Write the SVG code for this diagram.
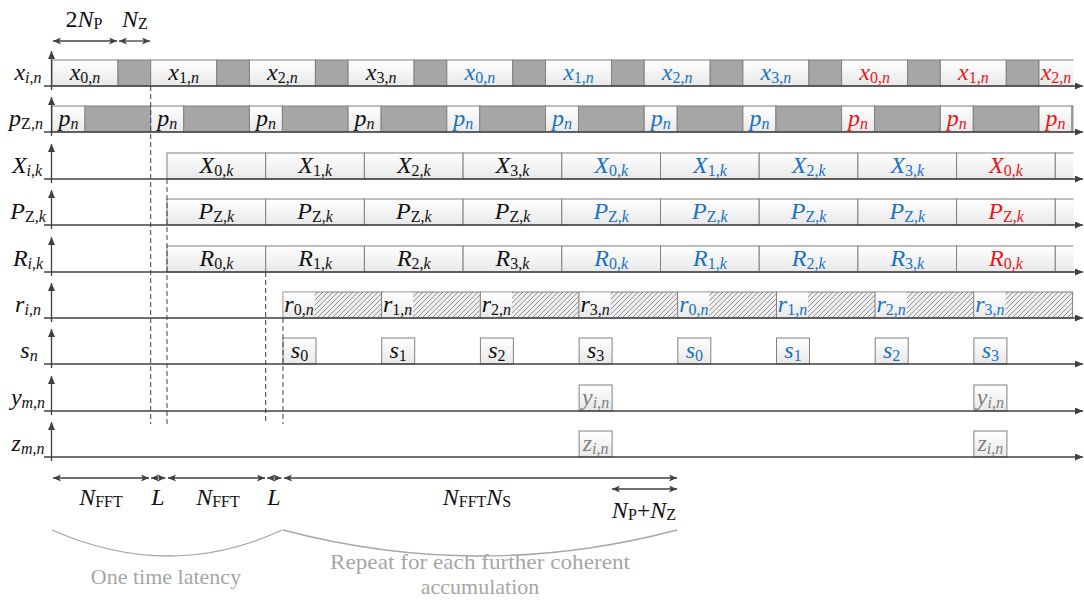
<svg xmlns="http://www.w3.org/2000/svg" width="1084" height="606" viewBox="0 0 1084 606">
<style>
text{font-family:"Liberation Serif","Times New Roman",serif}
.t{font-size:24px;font-style:italic}
.s{font-size:16px;font-style:normal}
.i{font-style:italic}
.k{fill:#111}
.b{fill:#1a72c0}
.r{fill:#e8161b}
.g{fill:#808080}
.gt{fill:#a6a6a6;font-size:22px;font-style:normal}
.w{fill:url(#wg);stroke:#808080;stroke-width:1}
.d{fill:#a6a6a6;stroke:#808080;stroke-width:1}
.h{fill:url(#hatch);stroke:#808080;stroke-width:1}
.ax{stroke:#404040;stroke-width:1.3;fill:none}
.dash{stroke:#404040;stroke-width:1;stroke-dasharray:5 3;fill:none}
.dim{stroke:#404040;stroke-width:1.3;fill:none;marker-start:url(#da);marker-end:url(#da)}
.brace{stroke:#a6a6a6;stroke-width:1.3;fill:none}
</style>
<defs>
<linearGradient id="wg" x1="0" y1="0" x2="0" y2="1">
<stop offset="0" stop-color="#ffffff"/>
<stop offset="1" stop-color="#e8e8e8"/>
</linearGradient>
<pattern id="hatch" patternUnits="userSpaceOnUse" width="5" height="5">
<rect width="5" height="5" fill="#eeeeee"/>
<path d="M0,5 L5,0 M-1,1 L1,-1 M4,6 L6,4" stroke="#7a7a7a" stroke-width="0.8"/>
</pattern>
<marker id="ah" markerUnits="userSpaceOnUse" markerWidth="9" markerHeight="8" refX="8" refY="3.5" orient="auto">
<path d="M0,0 L8,3.5 L0,7 z" fill="#404040"/>
</marker>
<marker id="da" markerUnits="userSpaceOnUse" markerWidth="9" markerHeight="8" refX="8" refY="3.5" orient="auto-start-reverse">
<path d="M0,0 L8,3.5 L0,7 L2,3.5 z" fill="#404040"/>
</marker>
<clipPath id="cl"><rect x="0" y="0" width="1073.5" height="606"/></clipPath>
</defs>

<!-- row x_{i,n} -->
<g id="row-x" clip-path="url(#cl)">
<rect class="w" x="52" y="60" width="66" height="26"/><rect class="d" x="118" y="60" width="32.7" height="26"/>
<rect class="w" x="150.7" y="60" width="66" height="26"/><rect class="d" x="216.7" y="60" width="32.7" height="26"/>
<rect class="w" x="249.4" y="60" width="66" height="26"/><rect class="d" x="315.4" y="60" width="32.7" height="26"/>
<rect class="w" x="348.1" y="60" width="66" height="26"/><rect class="d" x="414.1" y="60" width="32.7" height="26"/>
<rect class="w" x="446.8" y="60" width="66" height="26"/><rect class="d" x="512.8" y="60" width="32.7" height="26"/>
<rect class="w" x="545.5" y="60" width="66" height="26"/><rect class="d" x="611.5" y="60" width="32.7" height="26"/>
<rect class="w" x="644.2" y="60" width="66" height="26"/><rect class="d" x="710.2" y="60" width="32.7" height="26"/>
<rect class="w" x="742.9" y="60" width="66" height="26"/><rect class="d" x="808.9" y="60" width="32.7" height="26"/>
<rect class="w" x="841.6" y="60" width="66" height="26"/><rect class="d" x="907.6" y="60" width="32.7" height="26"/>
<rect class="w" x="940.3" y="60" width="66" height="26"/><rect class="d" x="1006.3" y="60" width="32.7" height="26"/>
<rect class="w" x="1039" y="60" width="66" height="26"/>
<text class="t k" x="85" y="80" text-anchor="middle">x<tspan class="s" dy="3">0,</tspan><tspan class="s i">n</tspan></text>
<text class="t k" x="183.7" y="80" text-anchor="middle">x<tspan class="s" dy="3">1,</tspan><tspan class="s i">n</tspan></text>
<text class="t k" x="282.4" y="80" text-anchor="middle">x<tspan class="s" dy="3">2,</tspan><tspan class="s i">n</tspan></text>
<text class="t k" x="381.1" y="80" text-anchor="middle">x<tspan class="s" dy="3">3,</tspan><tspan class="s i">n</tspan></text>
<text class="t b" x="479.8" y="80" text-anchor="middle">x<tspan class="s" dy="3">0,</tspan><tspan class="s i">n</tspan></text>
<text class="t b" x="578.5" y="80" text-anchor="middle">x<tspan class="s" dy="3">1,</tspan><tspan class="s i">n</tspan></text>
<text class="t b" x="677.2" y="80" text-anchor="middle">x<tspan class="s" dy="3">2,</tspan><tspan class="s i">n</tspan></text>
<text class="t b" x="775.9" y="80" text-anchor="middle">x<tspan class="s" dy="3">3,</tspan><tspan class="s i">n</tspan></text>
<text class="t r" x="874.6" y="80" text-anchor="middle">x<tspan class="s" dy="3">0,</tspan><tspan class="s i">n</tspan></text>
<text class="t r" x="973.3" y="80" text-anchor="middle">x<tspan class="s" dy="3">1,</tspan><tspan class="s i">n</tspan></text>
<text class="t r" x="1056" y="80" text-anchor="middle">x<tspan class="s" dy="3">2,</tspan><tspan class="s i">n</tspan></text>
</g>

<!-- row p_{Z,n} -->
<g id="row-p" clip-path="url(#cl)">
<rect class="w" x="52" y="106" width="33" height="26"/><rect class="d" x="85" y="106" width="65.7" height="26"/>
<rect class="w" x="150.7" y="106" width="33" height="26"/><rect class="d" x="183.7" y="106" width="65.7" height="26"/>
<rect class="w" x="249.4" y="106" width="33" height="26"/><rect class="d" x="282.4" y="106" width="65.7" height="26"/>
<rect class="w" x="348.1" y="106" width="33" height="26"/><rect class="d" x="381.1" y="106" width="65.7" height="26"/>
<rect class="w" x="446.8" y="106" width="33" height="26"/><rect class="d" x="479.8" y="106" width="65.7" height="26"/>
<rect class="w" x="545.5" y="106" width="33" height="26"/><rect class="d" x="578.5" y="106" width="65.7" height="26"/>
<rect class="w" x="644.2" y="106" width="33" height="26"/><rect class="d" x="677.2" y="106" width="65.7" height="26"/>
<rect class="w" x="742.9" y="106" width="33" height="26"/><rect class="d" x="775.9" y="106" width="65.7" height="26"/>
<rect class="w" x="841.6" y="106" width="33" height="26"/><rect class="d" x="874.6" y="106" width="65.7" height="26"/>
<rect class="w" x="940.3" y="106" width="33" height="26"/><rect class="d" x="973.3" y="106" width="65.7" height="26"/>
<rect class="w" x="1039" y="106" width="33" height="26"/><rect class="d" x="1072" y="106" width="65.7" height="26"/>
<text class="t k" x="68.5" y="126" text-anchor="middle">p<tspan class="s i" dy="3">n</tspan></text>
<text class="t k" x="167.2" y="126" text-anchor="middle">p<tspan class="s i" dy="3">n</tspan></text>
<text class="t k" x="265.9" y="126" text-anchor="middle">p<tspan class="s i" dy="3">n</tspan></text>
<text class="t k" x="364.6" y="126" text-anchor="middle">p<tspan class="s i" dy="3">n</tspan></text>
<text class="t b" x="463.3" y="126" text-anchor="middle">p<tspan class="s i" dy="3">n</tspan></text>
<text class="t b" x="562" y="126" text-anchor="middle">p<tspan class="s i" dy="3">n</tspan></text>
<text class="t b" x="660.7" y="126" text-anchor="middle">p<tspan class="s i" dy="3">n</tspan></text>
<text class="t b" x="759.4" y="126" text-anchor="middle">p<tspan class="s i" dy="3">n</tspan></text>
<text class="t r" x="858.1" y="126" text-anchor="middle">p<tspan class="s i" dy="3">n</tspan></text>
<text class="t r" x="956.8" y="126" text-anchor="middle">p<tspan class="s i" dy="3">n</tspan></text>
<text class="t r" x="1055.5" y="126" text-anchor="middle">p<tspan class="s i" dy="3">n</tspan></text>
</g>

<!-- row X_{i,k} -->
<g id="row-X" clip-path="url(#cl)">
<rect class="w" x="167" y="153" width="98.7" height="26"/>
<rect class="w" x="265.7" y="153" width="98.7" height="26"/>
<rect class="w" x="364.4" y="153" width="98.7" height="26"/>
<rect class="w" x="463.1" y="153" width="98.7" height="26"/>
<rect class="w" x="561.8" y="153" width="98.7" height="26"/>
<rect class="w" x="660.5" y="153" width="98.7" height="26"/>
<rect class="w" x="759.2" y="153" width="98.7" height="26"/>
<rect class="w" x="857.9" y="153" width="98.7" height="26"/>
<rect class="w" x="956.6" y="153" width="98.7" height="26"/>
<rect class="w" x="1055.3" y="153" width="98.7" height="26"/>
<text class="t k" x="216.4" y="173" text-anchor="middle">X<tspan class="s" dy="3">0,</tspan><tspan class="s i">k</tspan></text>
<text class="t k" x="315.1" y="173" text-anchor="middle">X<tspan class="s" dy="3">1,</tspan><tspan class="s i">k</tspan></text>
<text class="t k" x="413.8" y="173" text-anchor="middle">X<tspan class="s" dy="3">2,</tspan><tspan class="s i">k</tspan></text>
<text class="t k" x="512.5" y="173" text-anchor="middle">X<tspan class="s" dy="3">3,</tspan><tspan class="s i">k</tspan></text>
<text class="t b" x="611.2" y="173" text-anchor="middle">X<tspan class="s" dy="3">0,</tspan><tspan class="s i">k</tspan></text>
<text class="t b" x="709.9" y="173" text-anchor="middle">X<tspan class="s" dy="3">1,</tspan><tspan class="s i">k</tspan></text>
<text class="t b" x="808.6" y="173" text-anchor="middle">X<tspan class="s" dy="3">2,</tspan><tspan class="s i">k</tspan></text>
<text class="t b" x="907.3" y="173" text-anchor="middle">X<tspan class="s" dy="3">3,</tspan><tspan class="s i">k</tspan></text>
<text class="t r" x="1006" y="173" text-anchor="middle">X<tspan class="s" dy="3">0,</tspan><tspan class="s i">k</tspan></text>
</g>

<!-- row P_{Z,k} -->
<g id="row-P" clip-path="url(#cl)">
<rect class="w" x="167" y="199" width="98.7" height="26"/>
<rect class="w" x="265.7" y="199" width="98.7" height="26"/>
<rect class="w" x="364.4" y="199" width="98.7" height="26"/>
<rect class="w" x="463.1" y="199" width="98.7" height="26"/>
<rect class="w" x="561.8" y="199" width="98.7" height="26"/>
<rect class="w" x="660.5" y="199" width="98.7" height="26"/>
<rect class="w" x="759.2" y="199" width="98.7" height="26"/>
<rect class="w" x="857.9" y="199" width="98.7" height="26"/>
<rect class="w" x="956.6" y="199" width="98.7" height="26"/>
<rect class="w" x="1055.3" y="199" width="98.7" height="26"/>
<text class="t k" x="216.4" y="219" text-anchor="middle">P<tspan class="s" dy="3">Z,</tspan><tspan class="s i">k</tspan></text>
<text class="t k" x="315.1" y="219" text-anchor="middle">P<tspan class="s" dy="3">Z,</tspan><tspan class="s i">k</tspan></text>
<text class="t k" x="413.8" y="219" text-anchor="middle">P<tspan class="s" dy="3">Z,</tspan><tspan class="s i">k</tspan></text>
<text class="t k" x="512.5" y="219" text-anchor="middle">P<tspan class="s" dy="3">Z,</tspan><tspan class="s i">k</tspan></text>
<text class="t b" x="611.2" y="219" text-anchor="middle">P<tspan class="s" dy="3">Z,</tspan><tspan class="s i">k</tspan></text>
<text class="t b" x="709.9" y="219" text-anchor="middle">P<tspan class="s" dy="3">Z,</tspan><tspan class="s i">k</tspan></text>
<text class="t b" x="808.6" y="219" text-anchor="middle">P<tspan class="s" dy="3">Z,</tspan><tspan class="s i">k</tspan></text>
<text class="t b" x="907.3" y="219" text-anchor="middle">P<tspan class="s" dy="3">Z,</tspan><tspan class="s i">k</tspan></text>
<text class="t r" x="1006" y="219" text-anchor="middle">P<tspan class="s" dy="3">Z,</tspan><tspan class="s i">k</tspan></text>
</g>

<!-- row R_{i,k} -->
<g id="row-R" clip-path="url(#cl)">
<rect class="w" x="167" y="246" width="98.7" height="26"/>
<rect class="w" x="265.7" y="246" width="98.7" height="26"/>
<rect class="w" x="364.4" y="246" width="98.7" height="26"/>
<rect class="w" x="463.1" y="246" width="98.7" height="26"/>
<rect class="w" x="561.8" y="246" width="98.7" height="26"/>
<rect class="w" x="660.5" y="246" width="98.7" height="26"/>
<rect class="w" x="759.2" y="246" width="98.7" height="26"/>
<rect class="w" x="857.9" y="246" width="98.7" height="26"/>
<rect class="w" x="956.6" y="246" width="98.7" height="26"/>
<rect class="w" x="1055.3" y="246" width="98.7" height="26"/>
<text class="t k" x="216.4" y="266" text-anchor="middle">R<tspan class="s" dy="3">0,</tspan><tspan class="s i">k</tspan></text>
<text class="t k" x="315.1" y="266" text-anchor="middle">R<tspan class="s" dy="3">1,</tspan><tspan class="s i">k</tspan></text>
<text class="t k" x="413.8" y="266" text-anchor="middle">R<tspan class="s" dy="3">2,</tspan><tspan class="s i">k</tspan></text>
<text class="t k" x="512.5" y="266" text-anchor="middle">R<tspan class="s" dy="3">3,</tspan><tspan class="s i">k</tspan></text>
<text class="t b" x="611.2" y="266" text-anchor="middle">R<tspan class="s" dy="3">0,</tspan><tspan class="s i">k</tspan></text>
<text class="t b" x="709.9" y="266" text-anchor="middle">R<tspan class="s" dy="3">1,</tspan><tspan class="s i">k</tspan></text>
<text class="t b" x="808.6" y="266" text-anchor="middle">R<tspan class="s" dy="3">2,</tspan><tspan class="s i">k</tspan></text>
<text class="t b" x="907.3" y="266" text-anchor="middle">R<tspan class="s" dy="3">3,</tspan><tspan class="s i">k</tspan></text>
<text class="t r" x="1006" y="266" text-anchor="middle">R<tspan class="s" dy="3">0,</tspan><tspan class="s i">k</tspan></text>
</g>

<!-- row r_{i,n} -->
<g id="row-r">
<rect class="h" x="283" y="292" width="98.7" height="26"/>
<rect class="h" x="381.7" y="292" width="98.7" height="26"/>
<rect class="h" x="480.4" y="292" width="98.7" height="26"/>
<rect class="h" x="579.1" y="292" width="98.7" height="26"/>
<rect class="h" x="677.8" y="292" width="98.7" height="26"/>
<rect class="h" x="776.5" y="292" width="98.7" height="26"/>
<rect class="h" x="875.2" y="292" width="98.7" height="26"/>
<rect class="h" x="973.9" y="292" width="98.7" height="26"/>
<g fill="url(#wg)">
<rect x="283.5" y="292.5" width="31" height="25"/>
<rect x="382.2" y="292.5" width="31" height="25"/>
<rect x="480.9" y="292.5" width="31" height="25"/>
<rect x="579.6" y="292.5" width="31" height="25"/>
<rect x="678.3" y="292.5" width="31" height="25"/>
<rect x="777" y="292.5" width="31" height="25"/>
<rect x="875.7" y="292.5" width="31" height="25"/>
<rect x="974.4" y="292.5" width="31" height="25"/>
</g>
<text class="t k" x="299" y="312" text-anchor="middle">r<tspan class="s" dy="3">0,</tspan><tspan class="s i">n</tspan></text>
<text class="t k" x="397.7" y="312" text-anchor="middle">r<tspan class="s" dy="3">1,</tspan><tspan class="s i">n</tspan></text>
<text class="t k" x="496.4" y="312" text-anchor="middle">r<tspan class="s" dy="3">2,</tspan><tspan class="s i">n</tspan></text>
<text class="t k" x="595.1" y="312" text-anchor="middle">r<tspan class="s" dy="3">3,</tspan><tspan class="s i">n</tspan></text>
<text class="t b" x="693.8" y="312" text-anchor="middle">r<tspan class="s" dy="3">0,</tspan><tspan class="s i">n</tspan></text>
<text class="t b" x="792.5" y="312" text-anchor="middle">r<tspan class="s" dy="3">1,</tspan><tspan class="s i">n</tspan></text>
<text class="t b" x="891.2" y="312" text-anchor="middle">r<tspan class="s" dy="3">2,</tspan><tspan class="s i">n</tspan></text>
<text class="t b" x="989.9" y="312" text-anchor="middle">r<tspan class="s" dy="3">3,</tspan><tspan class="s i">n</tspan></text>
</g>

<!-- row s_n -->
<g id="row-s">
<rect class="w" x="283" y="338" width="33" height="26"/>
<rect class="w" x="381.7" y="338" width="33" height="26"/>
<rect class="w" x="480.4" y="338" width="33" height="26"/>
<rect class="w" x="579.1" y="338" width="33" height="26"/>
<rect class="w" x="677.8" y="338" width="33" height="26"/>
<rect class="w" x="776.5" y="338" width="33" height="26"/>
<rect class="w" x="875.2" y="338" width="33" height="26"/>
<rect class="w" x="973.9" y="338" width="33" height="26"/>
<text class="t k" x="299.5" y="358" text-anchor="middle">s<tspan class="s" dy="3">0</tspan></text>
<text class="t k" x="398.2" y="358" text-anchor="middle">s<tspan class="s" dy="3">1</tspan></text>
<text class="t k" x="496.9" y="358" text-anchor="middle">s<tspan class="s" dy="3">2</tspan></text>
<text class="t k" x="595.6" y="358" text-anchor="middle">s<tspan class="s" dy="3">3</tspan></text>
<text class="t b" x="694.3" y="358" text-anchor="middle">s<tspan class="s" dy="3">0</tspan></text>
<text class="t b" x="793" y="358" text-anchor="middle">s<tspan class="s" dy="3">1</tspan></text>
<text class="t b" x="891.7" y="358" text-anchor="middle">s<tspan class="s" dy="3">2</tspan></text>
<text class="t b" x="990.4" y="358" text-anchor="middle">s<tspan class="s" dy="3">3</tspan></text>
</g>

<!-- row y_{m,n} -->
<g id="row-y">
<rect class="w" x="579.1" y="385" width="33" height="26"/>
<rect class="w" x="973.9" y="385" width="33" height="26"/>
<text class="t g" x="595.6" y="405" text-anchor="middle">y<tspan class="s i" dy="3">i</tspan><tspan class="s">,</tspan><tspan class="s i">n</tspan></text>
<text class="t g" x="990.4" y="405" text-anchor="middle">y<tspan class="s i" dy="3">i</tspan><tspan class="s">,</tspan><tspan class="s i">n</tspan></text>
</g>

<!-- row z_{m,n} -->
<g id="row-z">
<rect class="w" x="579.1" y="431" width="33" height="26"/>
<rect class="w" x="973.9" y="431" width="33" height="26"/>
<text class="t g" x="595.6" y="451" text-anchor="middle">z<tspan class="s i" dy="3">i</tspan><tspan class="s">,</tspan><tspan class="s i">n</tspan></text>
<text class="t g" x="990.4" y="451" text-anchor="middle">z<tspan class="s i" dy="3">i</tspan><tspan class="s">,</tspan><tspan class="s i">n</tspan></text>
</g>

<!-- row labels -->
<g id="labels">
<text class="t k" x="28" y="80" text-anchor="middle">x<tspan class="s i" dy="3">i</tspan><tspan class="s">,</tspan><tspan class="s i">n</tspan></text>
<text class="t k" x="26" y="126" text-anchor="middle">p<tspan class="s" dy="3">Z,</tspan><tspan class="s i">n</tspan></text>
<text class="t k" x="27" y="173" text-anchor="middle">X<tspan class="s i" dy="3">i</tspan><tspan class="s">,</tspan><tspan class="s i">k</tspan></text>
<text class="t k" x="28" y="219" text-anchor="middle">P<tspan class="s" dy="3">Z,</tspan><tspan class="s i">k</tspan></text>
<text class="t k" x="28" y="266" text-anchor="middle">R<tspan class="s i" dy="3">i</tspan><tspan class="s">,</tspan><tspan class="s i">k</tspan></text>
<text class="t k" x="28" y="312" text-anchor="middle">r<tspan class="s i" dy="3">i</tspan><tspan class="s">,</tspan><tspan class="s i">n</tspan></text>
<text class="t k" x="29" y="358" text-anchor="middle">s<tspan class="s i" dy="3">n</tspan></text>
<text class="t k" x="28" y="405" text-anchor="middle">y<tspan class="s i" dy="3">m</tspan><tspan class="s">,</tspan><tspan class="s i">n</tspan></text>
<text class="t k" x="28" y="451" text-anchor="middle">z<tspan class="s i" dy="3">m</tspan><tspan class="s">,</tspan><tspan class="s i">n</tspan></text>
</g>

<!-- connectors: axes, dashed guides, dimensions -->
<g id="connectors">
<g class="ax" marker-end="url(#ah)">
<line x1="44" y1="86" x2="1083" y2="86"/>
<line x1="44" y1="132" x2="1083" y2="132"/>
<line x1="44" y1="179" x2="1083" y2="179"/>
<line x1="44" y1="225" x2="1083" y2="225"/>
<line x1="44" y1="272" x2="1083" y2="272"/>
<line x1="44" y1="318" x2="1083" y2="318"/>
<line x1="44" y1="364" x2="1083" y2="364"/>
<line x1="44" y1="411" x2="1083" y2="411"/>
<line x1="44" y1="457" x2="1083" y2="457"/>
<line x1="51.5" y1="90" x2="51.5" y2="51"/>
<line x1="51.5" y1="136" x2="51.5" y2="97"/>
<line x1="51.5" y1="183" x2="51.5" y2="144"/>
<line x1="51.5" y1="229" x2="51.5" y2="190"/>
<line x1="51.5" y1="276" x2="51.5" y2="237"/>
<line x1="51.5" y1="322" x2="51.5" y2="283"/>
<line x1="51.5" y1="368" x2="51.5" y2="329"/>
<line x1="51.5" y1="415" x2="51.5" y2="376"/>
<line x1="51.5" y1="461" x2="51.5" y2="422"/>
</g>
<line class="dash" x1="150.7" y1="86" x2="150.7" y2="424"/>
<line class="dash" x1="167" y1="179" x2="167" y2="424"/>
<line class="dash" x1="265.7" y1="272" x2="265.7" y2="424"/>
<line class="dash" x1="283" y1="318" x2="283" y2="424"/>
<line class="dim" x1="53" y1="41" x2="117" y2="41"/>
<line class="dim" x1="119" y1="41" x2="150" y2="41"/>
<line class="dim" x1="53" y1="478" x2="149" y2="478"/>
<line class="dim" x1="151" y1="478" x2="165.5" y2="478"/>
<line class="dim" x1="168" y1="478" x2="265" y2="478"/>
<line class="dim" x1="267" y1="478" x2="281.5" y2="478"/>
<line class="dim" x1="284" y1="478" x2="677" y2="478"/>
<line class="dim" x1="612" y1="489" x2="677" y2="489"/>
<path class="brace" d="M52,530 Q170,582 282,530"/>
<path class="brace" d="M283,530 Q480,582 677,530"/>
</g>

<!-- dimension labels -->
<g id="dim-labels">
<text class="t k" x="84" y="27" text-anchor="middle"><tspan font-style="normal">2</tspan>N<tspan class="s" dy="2">P</tspan></text>
<text class="t k" x="135" y="27" text-anchor="middle">N<tspan class="s" dy="2">Z</tspan></text>
<text class="t k" x="101" y="505" text-anchor="middle">N<tspan class="s" dy="2">FFT</tspan></text>
<text class="t k" x="158" y="505" text-anchor="middle">L</text>
<text class="t k" x="218" y="505" text-anchor="middle">N<tspan class="s" dy="2">FFT</tspan></text>
<text class="t k" x="274" y="505" text-anchor="middle">L</text>
<text class="t k" x="477" y="505" text-anchor="middle">N<tspan class="s" dy="2">FFT</tspan><tspan dy="-2">N</tspan><tspan class="s" dy="2">S</tspan></text>
<text class="t k" x="644" y="518" text-anchor="middle">N<tspan class="s" dy="2">P</tspan><tspan font-style="normal" dy="-2">+</tspan>N<tspan class="s" dy="2">Z</tspan></text>
<text class="gt" x="166" y="584" text-anchor="middle">One time latency</text>
<text class="gt" x="480" y="569" text-anchor="middle" textLength="300" lengthAdjust="spacingAndGlyphs">Repeat for each further coherent</text>
<text class="gt" x="480" y="594" text-anchor="middle">accumulation</text>
</g>
</svg>
